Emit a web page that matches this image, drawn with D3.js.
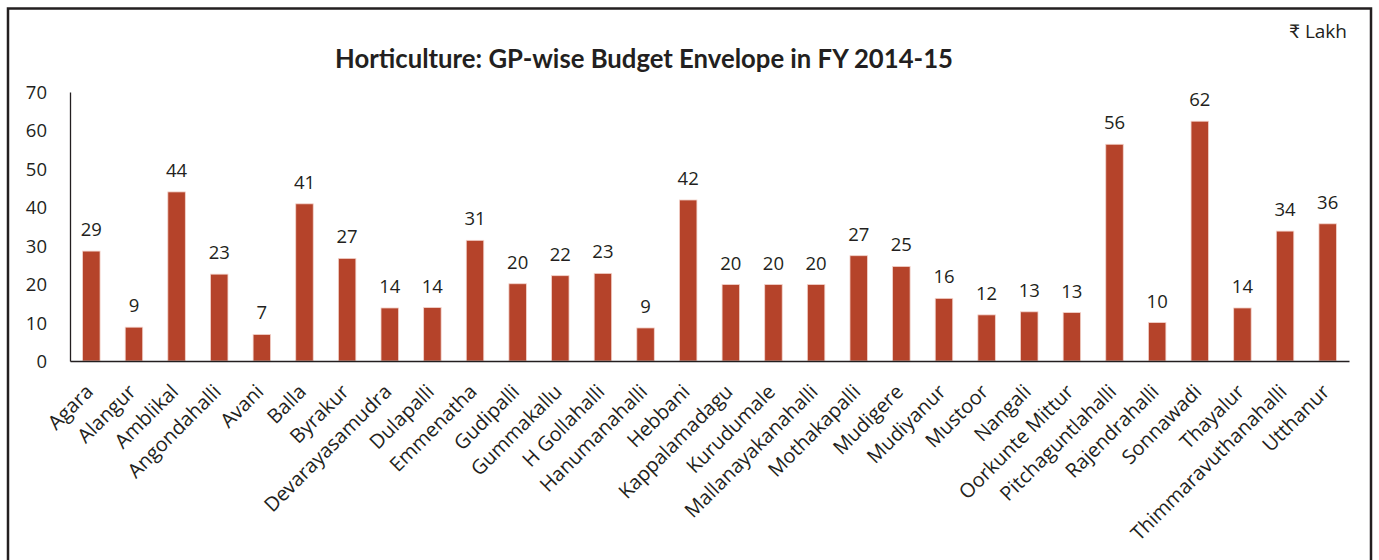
<!DOCTYPE html>
<html>
<head>
<meta charset="utf-8">
<script src="https://cdn.jsdelivr.net/npm/d3@7"></script>
<style>
  body { margin: 0; background: #fff; }
  svg text { font-family: "Open Sans", "Lato", sans-serif; fill: #231f20; }
</style>
</head>
<body>
<svg id="chart" width="1379" height="560"></svg>
<script>
const categories = ["Agara", "Alangur", "Amblikal", "Angondahalli", "Avani", "Balla", "Byrakur",
  "Devarayasamudra", "Dulapalli", "Emmenatha", "Gudipalli", "Gummakallu", "H Gollahalli",
  "Hanumanahalli", "Hebbani", "Kappalamadagu", "Kurudumale", "Mallanayakanahalli",
  "Mothakapalli", "Mudigere", "Mudiyanur", "Mustoor", "Nangali", "Oorkunte Mittur",
  "Pitchaguntlahalli", "Rajendrahalli", "Sonnawadi", "Thayalur", "Thimmaravuthanahalli", "Utthanur"];

const budget = [28.6, 8.8, 44.0, 22.6, 6.9, 40.9, 26.7, 13.8, 13.9, 31.4, 20.1, 22.2, 22.8,
  8.6, 41.9, 19.9, 19.9, 19.9, 27.4, 24.6, 16.3, 12.0, 12.8, 12.6, 56.4, 10.0, 62.4, 13.8, 33.8, 35.7];

const yTicks = [0, 10, 20, 30, 40, 50, 60, 70];

const data = categories.map((c, i) => ({ name: c, value: budget[i] }));

const svg = d3.select("#chart");
const W = 1379, H = 560;

// outer frame
svg.append("rect")
  .attr("x", 8).attr("y", 8.5)
  .attr("width", W - 16).attr("height", H + 20)
  .attr("fill", "none")
  .attr("stroke", "#231f20")
  .attr("stroke-width", 2.5);

const margin = { left: 70, right: 30, top: 92, bottom: 199 };

const x = d3.scaleBand()
  .domain(categories)
  .range([margin.left, W - margin.right])
  .paddingInner(0.59)
  .paddingOuter(0.295);

const y = d3.scaleLinear()
  .domain([0, 70])
  .range([H - margin.bottom, margin.top]);

// title + unit
svg.append("text")
  .attr("x", 644).attr("y", 68)
  .attr("text-anchor", "middle")
  .style("font-family", "Lato, sans-serif")
  .style("font-size", "25.7px")
  .style("font-weight", "bold")
  .text("Horticulture: GP-wise Budget Envelope in FY 2014-15");

svg.append("text")
  .attr("x", 1347).attr("y", 38)
  .attr("text-anchor", "end")
  .style("font-size", "19px")
  .text("₹ Lakh");

// bars
svg.append("g")
  .selectAll("rect")
  .data(data)
  .join("rect")
  .attr("x", d => x(d.name))
  .attr("y", d => y(d.value))
  .attr("width", x.bandwidth())
  .attr("height", d => y(0) - y(d.value))
  .attr("fill", "#b5432a")
  .attr("stroke", "#f3d3cb")
  .attr("stroke-width", 0.8);

// value labels
svg.append("g")
  .selectAll("text")
  .data(data)
  .join("text")
  .attr("x", d => x(d.name) + x.bandwidth() / 2)
  .attr("y", d => y(d.value) - 15)
  .attr("text-anchor", "middle")
  .style("font-size", "18.5px")
  .text(d => Math.round(d.value));

// y axis
const yAxis = svg.append("g")
  .attr("transform", "translate(" + margin.left + ",0)")
  .call(d3.axisLeft(y).tickValues(yTicks).tickSize(0).tickPadding(23));
yAxis.select(".domain").attr("stroke", "#231f20").attr("stroke-width", 1.3);
yAxis.selectAll("text")
  .style("font-size", "18.5px")
  .attr("dy", "0.35em");

// x axis
const xAxis = svg.append("g")
  .attr("transform", "translate(0," + y(0) + ")")
  .call(d3.axisBottom(x).tickSize(0).tickSizeOuter(0));
xAxis.select(".domain").attr("stroke", "#231f20").attr("stroke-width", 1.5);
xAxis.selectAll("text")
  .style("font-size", "20px")
  .attr("text-anchor", "end")
  .attr("dy", null)
  .attr("y", 0)
  .attr("transform", "translate(3,32) rotate(-45)");
</script>
</body>
</html>
